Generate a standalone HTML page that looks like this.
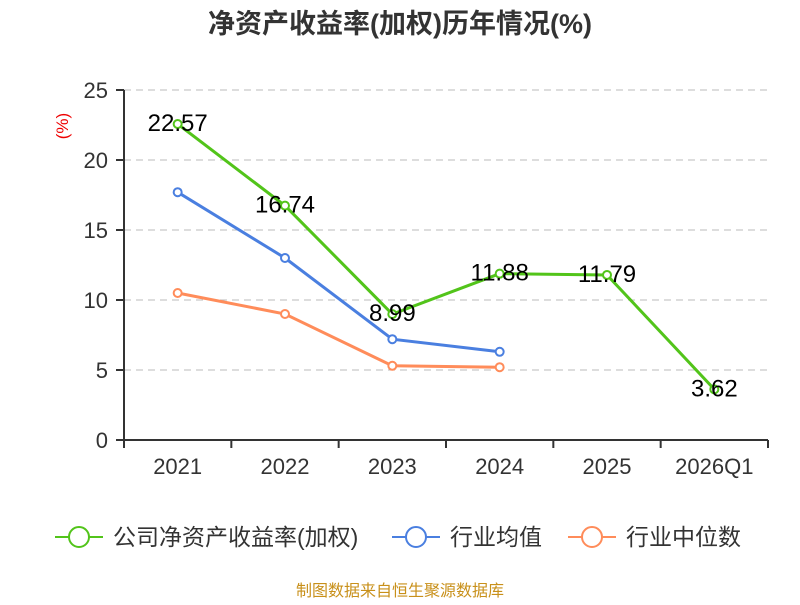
<!DOCTYPE html>
<html><head><meta charset="utf-8"><style>
body{margin:0;background:#fff;}
svg text{font-family:"Liberation Sans","Noto Sans CJK SC",sans-serif;}
</style></head><body>
<svg id="c" width="800" height="600" xmlns="http://www.w3.org/2000/svg">
<text x="400" y="33" text-anchor="middle" font-size="27" font-weight="bold" fill="#333">净资产收益率(加权)历年情况(%)</text>
<text x="68" y="126" text-anchor="middle" font-size="17" fill="#e00" transform="rotate(-90 68 126)">(%)</text>
<g id="grid"></g><g id="axes"></g><g id="series"></g>
<g>
<g><line x1="55" y1="537" x2="103" y2="537" stroke="#52c41a" stroke-width="2"/><circle cx="79" cy="537" r="10" fill="#fff" stroke="#52c41a" stroke-width="2"/><text x="113" y="545" font-size="23" fill="#333">公司净资产收益率(加权)</text></g>
<g><line x1="392" y1="537" x2="440" y2="537" stroke="#4a7fe0" stroke-width="2"/><circle cx="416" cy="537" r="10" fill="#fff" stroke="#4a7fe0" stroke-width="2"/><text x="450" y="545" font-size="23" fill="#333">行业均值</text></g>
<g><line x1="568" y1="537" x2="616" y2="537" stroke="#ff8c5a" stroke-width="2"/><circle cx="592" cy="537" r="10" fill="#fff" stroke="#ff8c5a" stroke-width="2"/><text x="626" y="545" font-size="23" fill="#333">行业中位数</text></g>
</g>
<text x="400" y="596" text-anchor="middle" font-size="16" fill="#c8901a">制图数据来自恒生聚源数据库</text>
</svg>
<script>
const categories=["2021","2022","2023","2024","2025","2026Q1"];
const companyValues=[22.57,16.74,8.99,11.88,11.79,3.62];
const industryAvg=[17.7,13.0,7.2,6.3];
const industryMedian=[10.5,9.0,5.3,5.2];
const yTicks=[0,5,10,15,20,25];
const NS="http://www.w3.org/2000/svg";
const L=124,R=768,T=90,B=440,yMax=25;
const bw=(R-L)/categories.length;
const xs=i=>L+bw*(i+0.5);
const ys=v=>B-(v/yMax)*(B-T);
function mk(tag,attrs,parent,txt){const e=document.createElementNS(NS,tag);for(const k in attrs)e.setAttribute(k,attrs[k]);if(txt!==undefined)e.textContent=txt;parent.appendChild(e);return e;}
const grid=document.getElementById('grid'),axes=document.getElementById('axes'),ser=document.getElementById('series');
yTicks.forEach(t=>{
 if(t>0){const g=mk('line',{x1:L,x2:R,y1:ys(t),y2:ys(t),stroke:'#bbb','stroke-dasharray':'7,5'},grid);
 
 }
 mk('line',{x1:L-8,x2:L,y1:ys(t),y2:ys(t),stroke:'#333','stroke-width':2},axes);
 const tx=mk('text',{x:L-16,y:ys(t)+8,'text-anchor':'end','font-size':22,fill:'#333'},axes,t);
 
 
});
mk('line',{x1:L,x2:L,y1:T,y2:B,stroke:'#333','stroke-width':2},axes);
mk('line',{x1:L,x2:R,y1:B,y2:B,stroke:'#333','stroke-width':2},axes);
for(let i=0;i<=categories.length;i++)mk('line',{x1:L+bw*i,x2:L+bw*i,y1:B,y2:B+8,stroke:'#333','stroke-width':2},axes);
categories.forEach((c,i)=>{const t=mk('text',{x:xs(i),y:B+34,'text-anchor':'middle','font-size':22,fill:'#333'},axes,c);
 
 });
function series(vals,color,name,labels){
 const g=mk('g',{},ser);
 
 
 mk('polyline',{points:vals.map((v,i)=>xs(i)+','+ys(v)).join(' '),fill:'none',stroke:color,'stroke-width':3},g);
 vals.forEach((v,i)=>{const c=mk('circle',{cx:xs(i),cy:ys(v),r:4,fill:'#fff',stroke:color,'stroke-width':2},g);
 
 
 if(labels){const t=mk('text',{x:xs(i),y:ys(v)+7,'text-anchor':'middle','font-size':24,fill:'#000'},g,v.toFixed(2));
 
 }});
}
series(industryMedian,'#ff8c5a','industry-median-line',false);
series(industryAvg,'#4a7fe0','industry-avg-line',false);
series(companyValues,'#52c41a','company-roe-line',true);
</script>
</body></html>
